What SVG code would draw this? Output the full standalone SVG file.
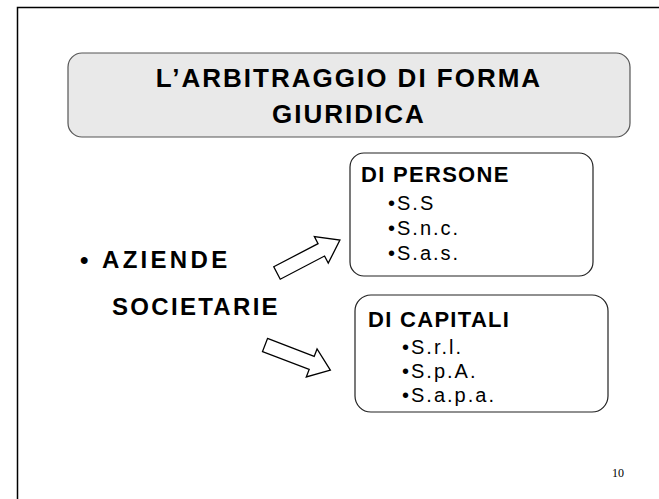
<svg xmlns="http://www.w3.org/2000/svg" width="659" height="499" viewBox="0 0 659 499">
<style>
.frame{fill:none;stroke:#000;stroke-width:1.5}
.box{fill:#fff;stroke:#222;stroke-width:1.2}
.tbox{fill:#e9e9e9;stroke:#555;stroke-width:1.2}
.t{font-family:"Liberation Sans",Arial,sans-serif;fill:#000}
.b{font-weight:bold}
.h{font-size:22px;font-weight:bold;letter-spacing:1.3px}
.i{font-size:20px;letter-spacing:2px}
.arrow{fill:#fff;stroke:#000;stroke-width:1.3;stroke-linejoin:miter}
</style>
<rect width="659" height="499" fill="#fff"/>
<path class="frame" d="M17.5,499 V7.5 H659"/>
<g id="title">
<rect class="tbox" x="68" y="53" width="562" height="84" rx="14"/>
<text class="t b" x="349" y="87" font-size="26" letter-spacing="2" text-anchor="middle">L’ARBITRAGGIO DI FORMA</text>
<text class="t b" x="349" y="123" font-size="26" letter-spacing="2" text-anchor="middle">GIURIDICA</text>
</g>
<g id="aziende">
<text class="t b" x="80" y="268" font-size="24">•</text>
<text class="t b" x="102" y="268" font-size="24" letter-spacing="3.3">AZIENDE</text>
<text class="t b" x="112" y="315" font-size="24" letter-spacing="2.3">SOCIETARIE</text>
</g>
<g id="persone">
<rect class="box" x="350" y="153" width="243" height="123" rx="14"/>
<text class="t h" x="361" y="182">DI PERSONE</text>
<text class="t i" x="388" y="210">•S.S</text>
<text class="t i" x="388" y="235">•S.n.c.</text>
<text class="t i" x="388" y="260">•S.a.s.</text>
</g>
<g id="capitali">
<rect class="box" x="355" y="295" width="253" height="117" rx="16"/>
<text class="t h" x="368" y="327">DI CAPITALI</text>
<text class="t i" x="402" y="354">•S.r.l.</text>
<text class="t i" x="402" y="378">•S.p.A.</text>
<text class="t i" x="402" y="402">•S.a.p.a.</text>
</g>
<g id="connectors">
<polygon class="arrow" transform="translate(277,273) rotate(-27.6)" points="0,-7 50,-7 50,-15 71,0 50,15 50,7 0,7"/>
<polygon class="arrow" transform="translate(265,345) rotate(21)" points="0,-7 50,-7 50,-15 70,0 50,15 50,7 0,7"/>
</g>
<text class="t" x="612" y="477" font-size="12" style="font-family:'Liberation Serif',serif">10</text>
</svg>
